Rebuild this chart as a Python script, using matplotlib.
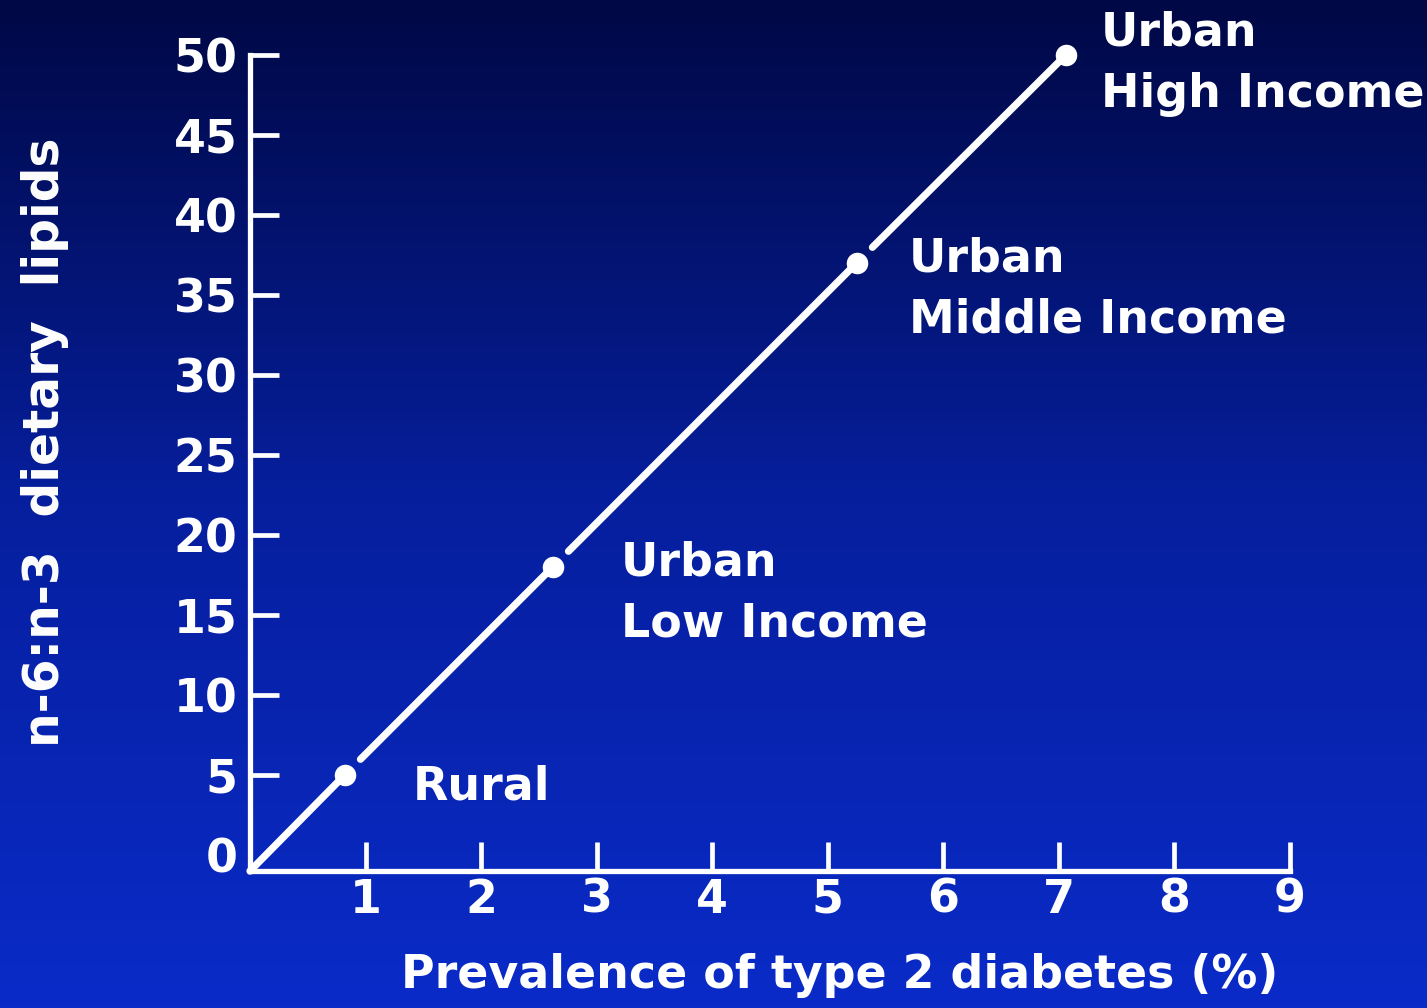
import matplotlib
matplotlib.use("Agg")
import matplotlib.pyplot as plt
import numpy as np
from matplotlib.colors import LinearSegmentedColormap

# ---------------------------------
groups = ["Rural", "Urban\nLow Income", "Urban\nMiddle Income", "Urban\nHigh Income"]
diabetes_pct = [0.82, 2.62, 5.25, 7.06]
n6_n3_ratio = [5, 18, 37, 50]
x_ticks = [1, 2, 3, 4, 5, 6, 7, 8, 9]
y_ticks = [0, 5, 10, 15, 20, 25, 30, 35, 40, 45, 50]
# label offsets in pixels from each point
label_offsets = [(68, 10), (68, 26), (52, 26), (35, 44)]
# --------------------------------

WHITE = "white"
FONT = "DejaVu Sans"
FS = 33

fig = plt.figure(figsize=(14.27, 10.08), dpi=100)

# vertical blue gradient behind everything
bg = fig.add_axes([0, 0, 1, 1], zorder=-10)
cmap = LinearSegmentedColormap.from_list("bg", ["#0a2bc8", "#061f9e", "#000845"])
grad = np.linspace(0, 1, 256).reshape(-1, 1)
bg.imshow(grad, aspect="auto", cmap=cmap, origin="lower", extent=[0, 1, 0, 1])
bg.set_axis_off()

ax = fig.add_axes([250 / 1427, 137 / 1008, 1040 / 1427, 816 / 1008])
ax.patch.set_alpha(0)
ax.set_xlim(0, 9)
ax.set_ylim(-1, 50)

for side in ["top", "right"]:
    ax.spines[side].set_visible(False)
for side in ["left", "bottom"]:
    ax.spines[side].set_color(WHITE)
    ax.spines[side].set_linewidth(3.8)
    ax.spines[side].set_capstyle("projecting")

ax.set_xticks(x_ticks)
ax.set_yticks(y_ticks)
ax.set_xticklabels([str(t) for t in x_ticks])
ax.set_yticklabels([str(t) for t in y_ticks])
ax.tick_params(axis="both", direction="in", length=21, width=3.4, color=WHITE,
               labelcolor=WHITE, labelsize=FS)
ax.tick_params(axis="y", pad=9)
ax.tick_params(axis="x", pad=5)
ax.yaxis.get_major_ticks()[0].tick1line.set_visible(False)
for lab in ax.get_xticklabels() + ax.get_yticklabels():
    lab.set_fontweight("bold")
    lab.set_family(FONT)

# line from the axes corner through each group, with a small gap after each dot
xs = [0] + diabetes_pct
ys = [-1] + n6_n3_ratio
for i in range(len(xs) - 1):
    gap = 0 if i == 0 else 16
    ax.annotate("", xy=(xs[i + 1], ys[i + 1]), xytext=(xs[i], ys[i]),
                arrowprops=dict(arrowstyle="-", color=WHITE, lw=5.2,
                                shrinkA=gap, shrinkB=0),
                annotation_clip=False)
ax.scatter(diabetes_pct, n6_n3_ratio, s=210, color=WHITE, zorder=5, clip_on=False)

for x, y, name, off in zip(diabetes_pct, n6_n3_ratio, groups, label_offsets):
    ax.annotate(name, xy=(x, y), xytext=off, textcoords="offset pixels",
                ha="left", va="top", color=WHITE, fontsize=FS, fontweight="bold",
                family=FONT, linespacing=1.45, annotation_clip=False)

fig.text(840 / 1427, 1 - 975 / 1008, "Prevalence of type 2 diabetes (%)",
         ha="center", va="center", color=WHITE, fontsize=FS, fontweight="bold", family=FONT)
fig.text(45 / 1427, 1 - 442 / 1008, "n-6:n-3  dietary  lipids", rotation=90,
         ha="center", va="center", color=WHITE, fontsize=35, fontweight="bold", family=FONT)

fig.savefig("out.png", dpi=100)
